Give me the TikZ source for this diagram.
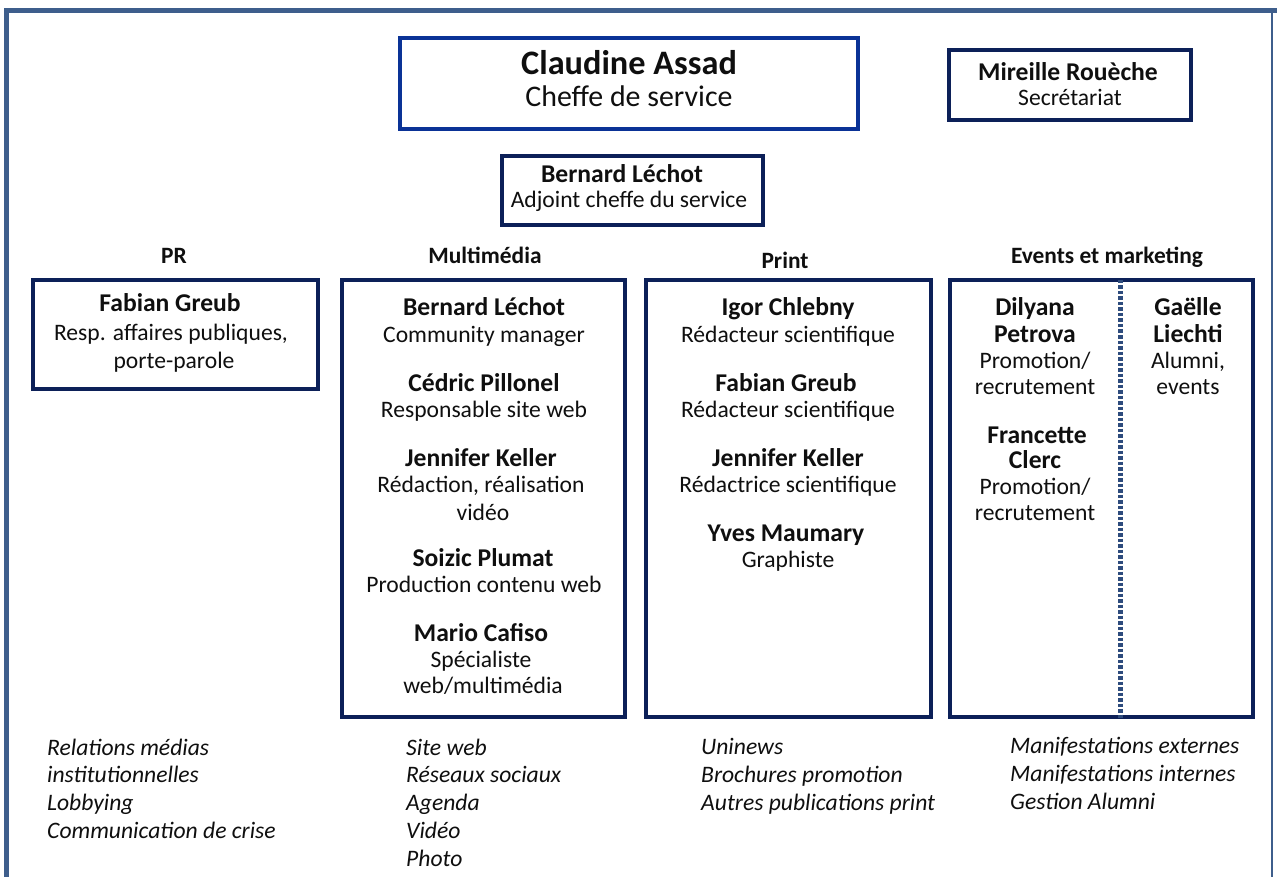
\documentclass[tikz,border=0pt]{standalone}
\usepackage{fontspec}
\setmainfont{Carlito}
\definecolor{framec}{RGB}{62,94,140}
\definecolor{topblue}{RGB}{10,50,150}
\definecolor{navy}{RGB}{12,32,88}
\definecolor{dashc}{RGB}{45,75,125}
\definecolor{txt}{RGB}{15,15,15}
\begin{document}
\begin{tikzpicture}[x=1pt,y=-1pt,
  box/.style={draw=navy,line width=4pt,rectangle,inner sep=0pt},
  nm/.style={anchor=base,inner sep=0pt,text=txt,font=\fontsize{25.6}{26}\selectfont\bfseries},
  rl/.style={anchor=base,inner sep=0pt,text=txt,font=\fontsize{23.6}{26}\selectfont},
  hd/.style={anchor=base,inner sep=0pt,text=txt,font=\fontsize{23.4}{26}\selectfont\bfseries},
  itl/.style={anchor=base west,inner sep=0pt,text=txt,font=\fontsize{23.6}{26}\selectfont\itshape}]
\useasboundingbox (0,0) rectangle (1277,877);
\fill[white] (0,0) rectangle (1277,877);
% outer frame
\coordinate (f1) at (6,877);
\coordinate (f2) at (6,11);
\coordinate (f3) at (1277,11);
\coordinate (f4) at (1272,11);
\coordinate (f5) at (1272,877);
\draw[framec,line width=5pt] (f1) -- (f2) -- (f3);
\draw[framec,line width=1.2pt] (f4) -- (f5);
% top boxes
\node[box,draw=topblue,minimum width=458pt,minimum height=91pt] (chef) at (629,83.5) {};
\node[nm,font=\fontsize{34.3}{34}\selectfont\bfseries] (chefn) at (629,75) {Claudine Assad};
\node[rl,font=\fontsize{29.9}{34}\selectfont] (chefr) at (629,107) {Cheffe de service};
\node[box,minimum width=242pt,minimum height=70pt] (sec) at (1070,85) {};
\node[nm] (secn) at (1068,81) {Mireille Rouèche};
\node[rl] (secr) at (1070,106) {Secrétariat};
\node[box,minimum width=261pt,minimum height=69pt] (adj) at (632.5,190.5) {};
\node[nm] (adjn) at (622,183) {Bernard Léchot};
\node[rl] (adjr) at (629,208) {Adjoint cheffe du service};
% headings
\node[hd] (hpr) at (174,264) {PR};
\node[hd] (hmm) at (485,264) {Multimédia};
\node[hd] (hpt) at (785,269) {Print};
\node[hd] (hev) at (1107,264) {Events et marketing};
% section boxes
\node[box,minimum width=285pt,minimum height=109pt] (pr) at (175.5,334.5) {};
\node[box,minimum width=283pt,minimum height=437pt] (mm) at (483.5,498.5) {};
\node[box,minimum width=285pt,minimum height=437pt] (pt) at (788.5,498.5) {};
\node[box,minimum width=303pt,minimum height=437pt] (ev) at (1101.5,498.5) {};
\coordinate (dtop) at (1120,280);
\coordinate (dbot) at (1120,719);
\draw[dashc,line width=5pt,dash pattern=on 3.5pt off 2pt] (dtop) -- (dbot);
% PR content
\node[nm] (pr1) at (170,312) {Fabian Greub};
\node[rl] (pr2) at (171,341) {Resp. affaires publiques,};
\node[rl] (pr3) at (174,368) {porte-parole};
% Multimedia content
\node[nm] (m1) at (484,316) {Bernard Léchot};
\node[rl] (m2) at (484,342) {Community manager};
\node[nm] (m3) at (484,391) {Cédric Pillonel};
\node[rl] (m4) at (484,417) {Responsable site web};
\node[nm] (m5) at (481,466) {Jennifer Keller};
\node[rl] (m6) at (481,492) {Rédaction, réalisation};
\node[rl] (m7) at (483,520) {vidéo};
\node[nm] (m8) at (483,566) {Soizic Plumat};
\node[rl] (m9) at (484,592) {Production contenu web};
\node[nm] (m10) at (481,641) {Mario Cafiso};
\node[rl] (m11) at (481,667) {Spécialiste};
\node[rl] (m12) at (483,693) {web/multimédia};
% Print content
\node[nm] (p1) at (788,316) {Igor Chlebny};
\node[rl] (p2) at (788,342) {Rédacteur scientifique};
\node[nm] (p3) at (786,391) {Fabian Greub};
\node[rl] (p4) at (788,417) {Rédacteur scientifique};
\node[nm] (p5) at (788,466) {Jennifer Keller};
\node[rl] (p6) at (788,492) {Rédactrice scientifique};
\node[nm] (p7) at (786,541) {Yves Maumary};
\node[rl] (p8) at (788,567) {Graphiste};
% Events content
\node[nm] (e1) at (1035,316) {Dilyana};
\node[nm] (e2) at (1035,342) {Petrova};
\node[rl] (e3) at (1035,368) {Promotion/};
\node[rl] (e4) at (1035,394) {recrutement};
\node[nm] (e5) at (1037,443) {Francette};
\node[nm] (e6) at (1035,468) {Clerc};
\node[rl] (e7) at (1035,494) {Promotion/};
\node[rl] (e8) at (1035,520) {recrutement};
\node[nm] (g1) at (1188,316) {Gaëlle};
\node[nm] (g2) at (1188,342) {Liechti};
\node[rl] (g3) at (1188,368) {Alumni,};
\node[rl] (g4) at (1188,394) {events};
% italic lists
\node[itl] (l1) at (47,755) {Relations médias};
\node[itl] (l2) at (47,782) {institutionnelles};
\node[itl] (l3) at (47,810) {Lobbying};
\node[itl] (l4) at (47,838) {Communication de crise};
\node[itl] (l5) at (406,755) {Site web};
\node[itl] (l6) at (406,782) {Réseaux sociaux};
\node[itl] (l7) at (406,810) {Agenda};
\node[itl] (l8) at (406,838) {Vidéo};
\node[itl] (l9) at (406,866) {Photo};
\node[itl] (l10) at (701,754) {Uninews};
\node[itl] (l11) at (701,782) {Brochures promotion};
\node[itl] (l12) at (701,810) {Autres publications print};
\node[itl] (l13) at (1010,753) {Manifestations externes};
\node[itl] (l14) at (1010,781) {Manifestations internes};
\node[itl] (l15) at (1010,809) {Gestion Alumni};
\end{tikzpicture}
\end{document}
